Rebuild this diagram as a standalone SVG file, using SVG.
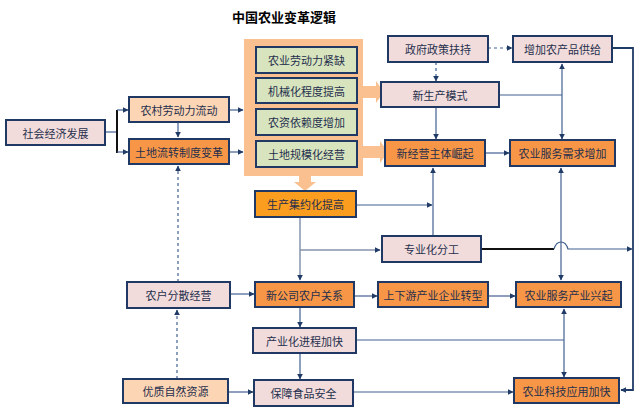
<svg xmlns="http://www.w3.org/2000/svg" width="640" height="409" viewBox="0 0 640 409">
<defs>
<marker id="ah" viewBox="0 0 10 10" refX="9" refY="5" markerWidth="6" markerHeight="6" orient="auto-start-reverse" markerUnits="userSpaceOnUse">
<path d="M0,0 L10,5 L0,10 z" fill="#1f3b66"/>
</marker>
<marker id="ahk" viewBox="0 0 10 10" refX="9" refY="5" markerWidth="6" markerHeight="6" orient="auto-start-reverse" markerUnits="userSpaceOnUse">
<path d="M0,0 L10,5 L0,10 z" fill="#111"/>
</marker>
</defs>
<style>
text{font-family:"Noto Sans CJK SC","Noto Sans CJK JP",sans-serif;font-size:11px;fill:#1f2f4d;text-anchor:middle;dominant-baseline:central}
.title{font-size:13px;font-weight:bold;fill:#000}
.b{stroke:#1f3864;stroke-width:2}
.pink{fill:#f2dcdb}
.peach{fill:#fcd5b4}
.orange{fill:#f79646}
.bright{fill:#fb9d1e}
.green{fill:#d7e4bd}
.c{fill:none;stroke:#41608f;stroke-width:1.2}
.g{fill:none;stroke:#8594ab;stroke-width:1.5}
.d{fill:none;stroke:#41608f;stroke-width:1.2;stroke-dasharray:3,3}
.k{fill:none;stroke:#111;stroke-width:2}
.wide{fill:#fac08f}
</style>
<rect width="640" height="409" fill="#fff"/>
<text class="title" x="284" y="16">中国农业变革逻辑</text>

<g id="big">
<rect x="244" y="39" width="119" height="137" class="wide"/>
<path class="wide" d="M363,86 L376,86 L376,81 L384,92 L376,103 L376,98 L363,98 z"/>
<path class="wide" d="M363,146 L380,146 L380,141 L388,152 L380,163 L380,158 L363,158 z"/>
<path class="wide" d="M299,176 L311,176 L311,182 L316,182 L305,191 L294,182 L299,182 z"/>
</g>

<g id="connectors">
<path class="c" d="M105,132 H117"/>
<path class="k" d="M117,110 V153"/>
<path class="c" d="M117,110 H128" marker-end="url(#ah)"/>
<path class="c" d="M117,152 H128" marker-end="url(#ah)"/>
<path class="c" d="M178,122 V137" marker-end="url(#ah)"/>
<path class="c" d="M229,110 H243" marker-end="url(#ah)"/>
<path class="c" d="M229,152 H243" marker-end="url(#ah)"/>
<path class="d" d="M178,282 V166" marker-end="url(#ah)"/>
<path class="d" d="M177,379 V310" marker-end="url(#ah)"/>
<path class="d" d="M488,48 H512" marker-end="url(#ah)"/>
<path class="d" d="M436,62 V81" marker-end="url(#ah)"/>
<path class="c" d="M436,107 V139" marker-end="url(#ah)"/>
<path class="c" d="M485,153 H509" marker-end="url(#ah)"/>
<path class="c" d="M499,95 H562"/>
<path class="c" d="M562,64 V139" marker-start="url(#ah)" marker-end="url(#ah)"/>
<path class="c" d="M612,48 H633 V390 H621" marker-end="url(#ah)" style="stroke:#1f3b66;stroke-width:1.8"/>
<path class="c" d="M356,205 H432" marker-end="url(#ah)"/>
<path class="c" d="M433,236 V168" marker-end="url(#ah)"/>
<path class="g" d="M300,217 V280" marker-end="url(#ah)"/>
<path class="g" d="M300,250 H380" marker-end="url(#ah)"/>
<path class="c" d="M561,168 V280" marker-start="url(#ah)" marker-end="url(#ah)"/>
<path class="k" d="M481,249 H554"/>
<path class="c" d="M554,249 Q556,242 561,242 Q566,242 568,249 H632" marker-end="url(#ah)"/>
<path class="c" d="M230,294 H254" marker-end="url(#ah)"/>
<path class="c" d="M354,296 H377" marker-end="url(#ah)"/>
<path class="c" d="M488,296 H515" marker-end="url(#ah)"/>
<path class="c" d="M300,307 V327" marker-end="url(#ah)"/>
<path class="c" d="M300,353 V379" marker-end="url(#ah)"/>
<path class="c" d="M356,340 H564"/>
<path class="c" d="M564,309 V377" marker-start="url(#ah)" marker-end="url(#ah)"/>
<path class="c" d="M228,392 H253" marker-end="url(#ah)"/>
<path class="c" d="M353,392 H513" marker-end="url(#ah)"/>
</g>

<g id="n1"><rect x="6" y="120" width="99" height="25" class="pink b"/><text x="55.5" y="132.5">社会经济发展</text></g>
<g id="n2"><rect x="129" y="97" width="100" height="25" class="peach b"/><text x="179" y="109.5">农村劳动力流动</text></g>
<g id="n3"><rect x="129" y="139" width="100" height="25" class="orange b"/><text x="179" y="151.5">土地流转制度变革</text></g>
<g id="n4"><rect x="256" y="47" width="101" height="26" class="green b"/><text x="306.5" y="60">农业劳动力紧缺</text></g>
<g id="n5"><rect x="256" y="78" width="101" height="25" class="green b"/><text x="306.5" y="90.5">机械化程度提高</text></g>
<g id="n6"><rect x="256" y="109" width="101" height="26" class="green b"/><text x="306.5" y="122">农资依赖度增加</text></g>
<g id="n7"><rect x="256" y="141" width="101" height="26" class="green b"/><text x="306.5" y="154">土地规模化经营</text></g>
<g id="n8"><rect x="255" y="191" width="101" height="26" class="bright b"/><text x="305.5" y="204">生产集约化提高</text></g>
<g id="n9"><rect x="388" y="36" width="100" height="26" class="pink b"/><text x="438" y="49">政府政策扶持</text></g>
<g id="n10"><rect x="513" y="36" width="99" height="26" class="pink b"/><text x="562.5" y="49">增加农产品供给</text></g>
<g id="n11"><rect x="381" y="82" width="118" height="25" class="pink b"/><text x="440" y="94.5">新生产模式</text></g>
<g id="n12"><rect x="385" y="140" width="100" height="26" class="orange b"/><text x="435" y="153">新经营主体崛起</text></g>
<g id="n13"><rect x="510" y="140" width="105" height="26" class="orange b"/><text x="562.5" y="153">农业服务需求增加</text></g>
<g id="n14"><rect x="382" y="236" width="99" height="26" class="pink b"/><text x="431.5" y="249">专业化分工</text></g>
<g id="n15"><rect x="127" y="282" width="103" height="26" class="pink b"/><text x="178.5" y="295">农户分散经营</text></g>
<g id="n16"><rect x="255" y="282" width="99" height="25" class="orange b"/><text x="304.5" y="294.5">新公司农户关系</text></g>
<g id="n17"><rect x="378" y="282" width="110" height="25" class="orange b"/><text x="433" y="294.5">上下游产业企业转型</text></g>
<g id="n18"><rect x="516" y="282" width="105" height="25" class="orange b"/><text x="568.5" y="294.5">农业服务产业兴起</text></g>
<g id="n19"><rect x="253" y="328" width="103" height="25" class="pink b"/><text x="304.5" y="340.5">产业化进程加快</text></g>
<g id="n20"><rect x="123" y="379" width="105" height="24" class="peach b"/><text x="175.5" y="391">优质自然资源</text></g>
<g id="n21"><rect x="254" y="380" width="99" height="26" class="pink b"/><text x="303.5" y="393">保障食品安全</text></g>
<g id="n22"><rect x="514" y="378" width="105" height="25" class="orange b"/><text x="566.5" y="390.5">农业科技应用加快</text></g>
</svg>
